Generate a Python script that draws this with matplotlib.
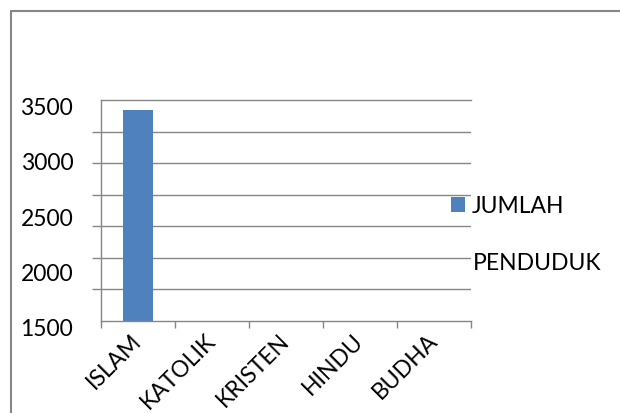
import numpy as np
from matplotlib import pyplot as plt
from matplotlib.patches import Rectangle
from matplotlib.transforms import ScaledTranslation

plt.rcParams['font.family'] = ['Lato', 'DejaVu Sans']

agama = ['ISLAM', 'KATOLIK', 'KRISTEN', 'HINDU', 'BUDHA']
jumlah = [3410, 0, 0, 0, 0]
y_labels = [1500, 2000, 2500, 3000, 3500]
garis = np.linspace(1500, 3500, 8)   # gridlines

abu = '#868686'
biru = '#4F81BD'
fs = 16.5

fig = plt.figure(figsize=(6.2, 4.14), dpi=100)
ax = fig.add_axes([101 / 620, 1 - 322 / 414, 370 / 620, 221 / 414])

xs = range(len(agama))
bars = ax.bar(xs, jumlah, width=0.405, color=biru, label='JUMLAH')

ax.set_xlim(-0.5, len(agama) - 0.5)
ax.set_ylim(1500, 3500)

# labels on major ticks, tick marks + grid on minor ticks
ax.set_yticks(y_labels)
ax.set_yticks(garis, minor=True)
ax.set_xticks(list(xs))
ax.set_xticklabels(agama)
ax.set_xticks(np.arange(-0.5, len(agama)), minor=True)

ax.tick_params(axis='y', which='major', length=0, pad=20, labelsize=fs)
ax.tick_params(axis='y', which='minor', length=6.5, width=1, color=abu)
ax.tick_params(axis='x', which='major', length=0, pad=11, labelsize=fs)
ax.tick_params(axis='x', which='minor', length=5, width=1, color=abu)
plt.setp(ax.get_xticklabels(), rotation=45, ha='right', va='center',
         rotation_mode='anchor')

# y labels sit a bit lower than their lines
geser = ScaledTranslation(0, -4 / 72, fig.dpi_scale_trans)
for t in ax.get_yticklabels():
    t.set_transform(t.get_transform() + geser)

ax.grid(axis='y', which='minor', color=abu, linewidth=1)
ax.set_axisbelow(True)
ax.spines['right'].set_visible(False)
for s in ['left', 'bottom', 'top']:
    ax.spines[s].set_color(abu)
    ax.spines[s].set_linewidth(1)

leg = fig.legend(handles=[bars], labels=['JUMLAH'], loc='center left',
                 bbox_to_anchor=(451 / 620, 1 - 207 / 414), frameon=False,
                 fontsize=fs, handlelength=0.6, handleheight=0.6,
                 handletextpad=0.3, borderpad=0, borderaxespad=0)
fig.text(473 / 620, 1 - 263 / 414, 'PENDUDUK', fontsize=fs, va='center')

# outer chart border
fig.patches.append(Rectangle((11 / 620, -0.1), 1.0, 1 - 12 / 414 + 0.1,
                             transform=fig.transFigure, fill=False,
                             edgecolor=abu, linewidth=1.5))

plt.savefig('out.png', dpi=100)
